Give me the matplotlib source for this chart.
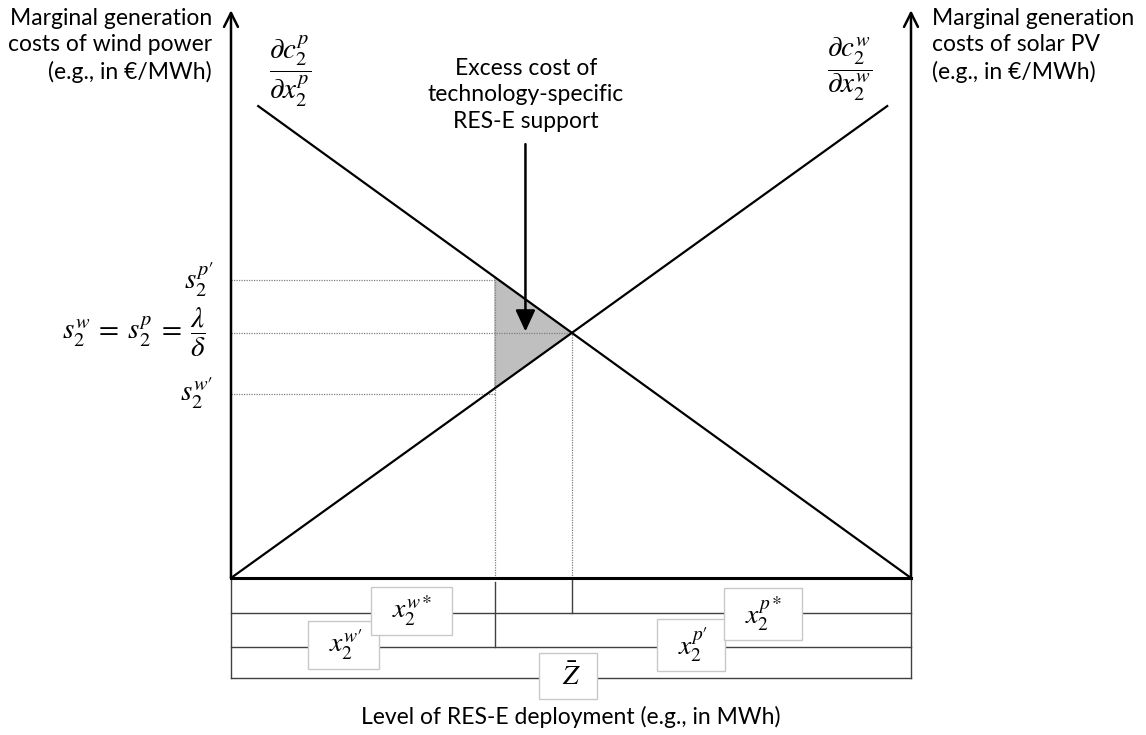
import numpy as np
import matplotlib
matplotlib.use("Agg")
import matplotlib.pyplot as plt

plt.rcParams['font.family'] = ['Lato', 'DejaVu Sans']
plt.rcParams['mathtext.fontset'] = 'stix'

# schematic values (deployment 0..Z_bar, cost in arbitrary units)
Z_bar = 100.0
wind_x = [0.0, 96.5]          # marginal cost of wind, rising from left
wind_y = [0.0, 69.4]
solar_x = [4.0, 100.0]        # marginal cost of solar, falling to right
solar_y = [69.4, 0.0]
x_w_prime = 38.8
s_p_prime = 43.8
s_w_prime = 27.1
y_top = 83.5
bracket_rows = [-5.15, -10.15, -14.7]

# intersection of the two lines
a1 = np.polyfit(wind_x, wind_y, 1)
a2 = np.polyfit(solar_x, solar_y, 1)
x_star = (a2[1] - a1[1]) / (a1[0] - a2[0])
s_star = np.polyval(a1, x_star)

fig = plt.figure(figsize=(11.46, 7.35), dpi=100)
ax = fig.add_axes([0, 0, 1, 1])
ax.set_xlim(-231 / 6.8, (1146 - 231) / 6.8)
ax.set_ylim((578 - 735) / 6.8, 578 / 6.8)
ax.axis('off')

# excess cost triangle
tri_x = [x_w_prime, x_w_prime, x_star]
tri_y = [np.polyval(a2, x_w_prime), np.polyval(a1, x_w_prime), s_star]
ax.fill(tri_x, tri_y, color='#bfbfbf', zorder=1)

# dotted guides
dot = dict(color='#808080', lw=0.9, ls=(0, (1, 1)), zorder=2)
ax.plot([0, x_w_prime], [s_p_prime, s_p_prime], **dot)
ax.plot([0, x_star], [s_star, s_star], **dot)
ax.plot([0, x_w_prime], [s_w_prime, s_w_prime], **dot)
ax.plot([x_w_prime, x_w_prime], [0, s_p_prime], **dot)
ax.plot([x_star, x_star], [0, s_star], **dot)

# cost curves
ax.plot(wind_x, wind_y, color='black', lw=1.6, zorder=3)
ax.plot(solar_x, solar_y, color='black', lw=1.6, zorder=3)

# axes
ax.plot([0, Z_bar], [0, 0], color='black', lw=2.2, zorder=4)
for xa in [0, Z_bar]:
    ax.annotate('', xy=(xa, y_top), xytext=(xa, 0),
                arrowprops=dict(arrowstyle='->,head_length=0.5,head_width=0.25',
                                lw=1.8, color='black', mutation_scale=20,
                                shrinkA=0, shrinkB=0))

# brackets below the axis
br = dict(color='#404040', lw=1.0)
for yb in bracket_rows:
    ax.plot([0, Z_bar], [yb, yb], **br)
ax.plot([0, 0], [0, bracket_rows[2]], **br)
ax.plot([Z_bar, Z_bar], [0, bracket_rows[2]], **br)
ax.plot([x_star, x_star], [0, bracket_rows[0]], **br)
ax.plot([x_w_prime, x_w_prime], [-0.6, bracket_rows[1]], **br)

mfs = 20
box = dict(boxstyle='square,pad=0.25', fc='white', ec='#c8c8c8', lw=1)
ax.text(26.5, -4.9, '  $x_2^{w*}$  ', fontsize=mfs, ha='center', va='center', bbox=box, zorder=6)
ax.text(16.5, -9.9, '  $x_2^{w\\prime}$  ', fontsize=mfs, ha='center', va='center', bbox=box, zorder=5)
ax.text(49.5, -14.4, '  $\\bar{Z}$  ', fontsize=mfs, ha='center', va='center',
        bbox=dict(boxstyle='square,pad=0.35', fc='white', ec='#c8c8c8', lw=1), zorder=5)
ax.text(78.2, -5.3, '  $x_2^{p*}$  ', fontsize=mfs, ha='center', va='center', bbox=box, zorder=6)
ax.text(67.7, -9.85, '  $x_2^{p\\prime}$  ', fontsize=mfs, ha='center', va='center', bbox=box, zorder=5)

# excess cost arrow
ax.annotate('', xy=(43.3, s_star + 0.2), xytext=(43.3, 63.8),
            arrowprops=dict(arrowstyle='-|>,head_length=0.65,head_width=0.3',
                            lw=1.8, color='black', mutation_scale=20,
                            shrinkA=0, shrinkB=0), zorder=6)

# price labels on the left
ax.text(-2.6, s_p_prime, r'$s_2^{p\prime}$', fontsize=21, ha='right', va='center')
ax.text(-3.8, s_star, r'$s_2^{w}\:=\:s_2^{p}\:=\:\dfrac{\lambda}{\delta}$', fontsize=21, ha='right', va='center')
ax.text(-2.6, s_w_prime, r'$s_2^{w\prime}$', fontsize=21, ha='right', va='center')

# curve labels
ax.text(8.7, 74.5, r'$\dfrac{\partial c_2^p}{\partial x_2^p}$', fontsize=21, ha='center', va='center')
ax.text(91.0, 74.8, r'$\dfrac{\partial c_2^w}{\partial x_2^w}$', fontsize=21, ha='center', va='center')

# text labels
fs = 16.5
fig.text(212 / 1146, 1 - 8 / 735, 'Marginal generation\ncosts of wind power\n(e.g., in €/MWh)',
         ha='right', va='top', fontsize=fs, linespacing=1.32)
fig.text(932 / 1146, 1 - 8 / 735, 'Marginal generation\ncosts of solar PV\n(e.g., in €/MWh)',
         ha='left', va='top', fontsize=fs, linespacing=1.32)
fig.text(526 / 1146, 1 - 58 / 735, 'Excess cost of\ntechnology-specific\nRES-E support',
         ha='center', va='top', fontsize=fs, linespacing=1.32)
fig.text(571 / 1146, 1 - 717 / 735, 'Level of RES-E deployment (e.g., in MWh)',
         ha='center', va='center', fontsize=fs)

fig.savefig('out.png', dpi=100)
